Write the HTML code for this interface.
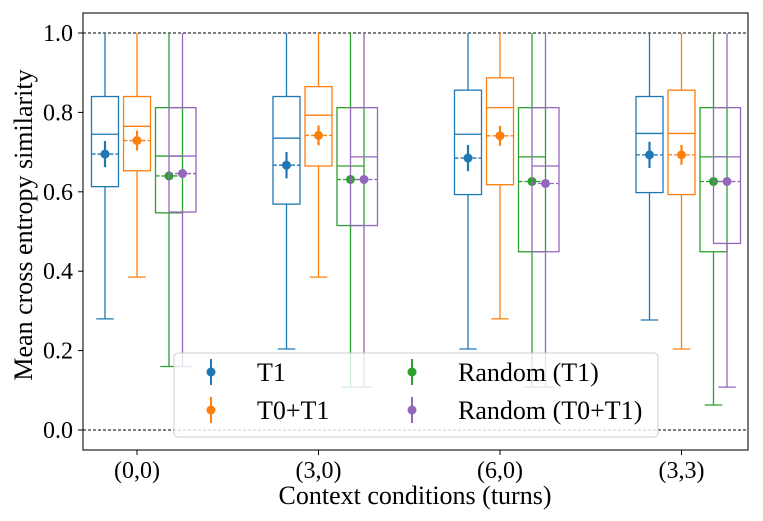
<!DOCTYPE html>
<html><head><meta charset="utf-8"><style>
html,body{margin:0;padding:0;background:#fff;}
svg{display:block;font-family:"Liberation Serif",serif;}
</style></head><body>
<svg id="chart" width="763" height="521" viewBox="0 0 763 521" xmlns="http://www.w3.org/2000/svg"></svg>
<script>
const categories=["(0,0)","(3,0)","(6,0)","(3,3)"];
const seriesNames=["T1","T0+T1","Random (T1)","Random (T0+T1)"];
const colors=["#1f77b4","#ff7f0e","#2ca02c","#9467bd"];
const whiskerLow=[[0.28,0.385,0.16,0.16],[0.204,0.385,0.108,0.108],[0.204,0.28,0.108,0.108],[0.277,0.204,0.063,0.108]];
const whiskerHigh=[[1,1,1,1],[1,1,1,1],[1,1,1,1],[1,1,1,1]];
const q1=[[0.613,0.653,0.547,0.549],[0.569,0.665,0.515,0.515],[0.593,0.618,0.449,0.449],[0.598,0.593,0.449,0.47]];
const q3=[[0.84,0.84,0.812,0.812],[0.84,0.865,0.812,0.812],[0.856,0.887,0.812,0.812],[0.84,0.856,0.812,0.812]];
const medians=[[0.745,0.765,0.69,0.69],[0.735,0.793,0.665,0.688],[0.745,0.812,0.688,0.665],[0.747,0.747,0.688,0.688]];
const means=[[0.695,0.729,0.64,0.646],[0.667,0.742,0.631,0.631],[0.685,0.741,0.626,0.621],[0.693,0.693,0.626,0.626]];
const meanErr=[[0.033,0.025,0.005,0.005],[0.033,0.025,0.005,0.005],[0.033,0.025,0.005,0.005],[0.033,0.025,0.005,0.005]];
const yTicks=[0,0.2,0.4,0.6,0.8,1.0];

const NS="http://www.w3.org/2000/svg";
const svg=document.getElementById('chart');
const L=83,R=748,T=13,B=450;
function y(v){return 430-v*397;}
function gx(i){return 137+181.5*i;}
const offs=[-32,0,32,45.5];
const bw=27;
function el(tag,attrs,parent){const e=document.createElementNS(NS,tag);for(const k in attrs)e.setAttribute(k,attrs[k]);(parent||svg).appendChild(e);return e;}

let g=el('g',{});


[0,1].forEach(v=>{const l=el('line',{x1:L,x2:R,y1:y(v),y2:y(v),stroke:'#000','stroke-width':1,'stroke-dasharray':'3,2'},g);});

categories.forEach((c,i)=>{
  const grp=el('g',{});
  
  
  seriesNames.forEach((s,j)=>{
    const col=colors[j];
    const b=el('g',{stroke:col,fill:'none','stroke-width':1.3},grp);
    
    
    const cxp=gx(i)+offs[j];
    el('line',{x1:cxp,x2:cxp,y1:y(whiskerHigh[i][j]),y2:y(q3[i][j])},b);
    el('line',{x1:cxp,x2:cxp,y1:y(q1[i][j]),y2:y(whiskerLow[i][j])},b);
    el('line',{x1:cxp-bw/4-2,x2:cxp+bw/4+2,y1:y(whiskerLow[i][j]),y2:y(whiskerLow[i][j])},b);
    el('rect',{x:cxp-bw/2,y:y(q3[i][j]),width:bw,height:y(q1[i][j])-y(q3[i][j])},b);
    el('line',{x1:cxp-bw/2,x2:cxp+bw/2,y1:y(medians[i][j]),y2:y(medians[i][j])},b);
    el('line',{x1:cxp-bw/2,x2:cxp+bw/2,y1:y(means[i][j]),y2:y(means[i][j]),'stroke-dasharray':'4,2'},b);
    el('line',{x1:cxp,x2:cxp,y1:y(means[i][j]+meanErr[i][j]),y2:y(means[i][j]-meanErr[i][j]),'stroke-width':2.2},b);
    el('circle',{cx:cxp,cy:y(means[i][j]),r:4.5,fill:col,stroke:'none'},b);
  });
});

const fr=el('rect',{x:L,y:T,width:R-L,height:B-T,fill:'none',stroke:'#222','stroke-width':1.2});



yTicks.forEach(v=>{
  el('line',{x1:L-5,x2:L,y1:y(v),y2:y(v),stroke:'#000'});
  const t=el('text',{x:L-10,y:y(v)+8,'text-anchor':'end','font-size':24});
  t.textContent=v.toFixed(1);
  
  
});
categories.forEach((c,i)=>{
  el('line',{x1:gx(i),x2:gx(i),y1:B,y2:B+5,stroke:'#000'});
  const t=el('text',{x:gx(i),y:B+28,'text-anchor':'middle','font-size':24});
  t.textContent=c;
  
  
});
let xt=el('text',{x:415,y:504,'text-anchor':'middle','font-size':26});
xt.textContent='Context conditions (turns)';


let yt=el('text',{x:0,y:0,'text-anchor':'middle','font-size':26,transform:'translate(32,225) rotate(-90)'});
yt.textContent='Mean cross entropy similarity';



const lg=el('g',{});


el('rect',{x:174,y:353,width:484,height:84,rx:4,fill:'rgba(255,255,255,0.8)',stroke:'#ccc','stroke-width':1},lg);
const lpos=[[211,372],[211,410],[412,372],[412,410]];
seriesNames.forEach((s,j)=>{
  const e=el('g',{},lg);
  
  
  const [lx,ly]=lpos[j];
  el('line',{x1:lx,x2:lx,y1:ly-13,y2:ly+13,stroke:colors[j],'stroke-width':2},e);
  el('circle',{cx:lx,cy:ly,r:4.5,fill:colors[j]},e);
  const t=el('text',{x:lx+46,y:ly+9,'font-size':26},e);
  t.textContent=s;
});
</script>
</body></html>
